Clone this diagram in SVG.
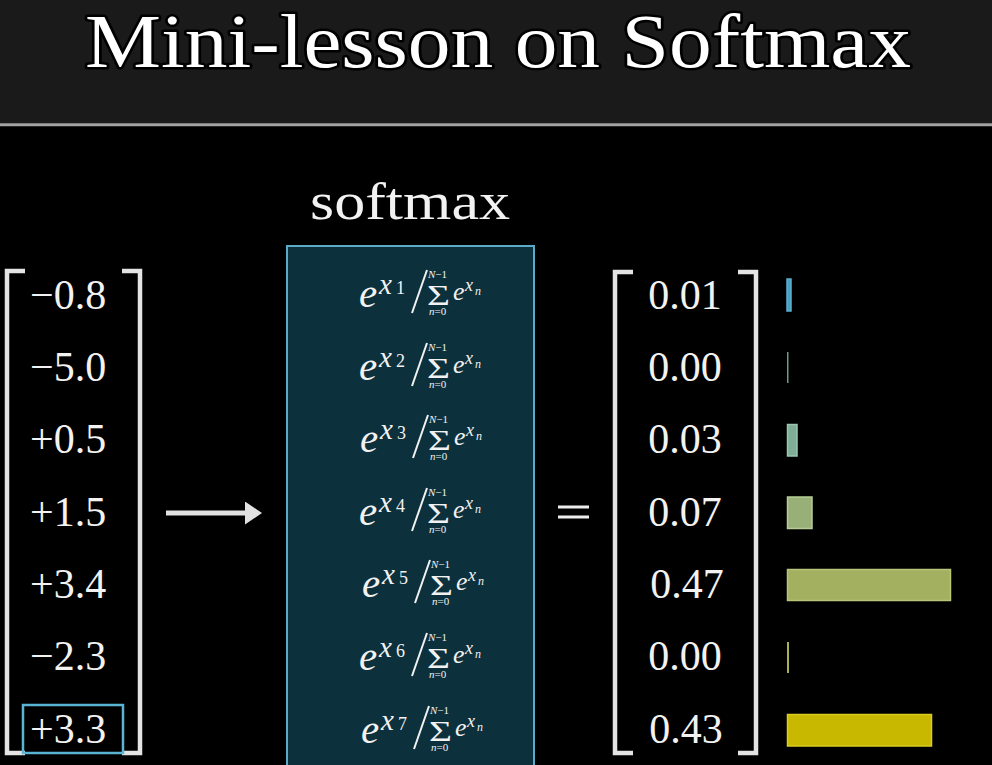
<svg xmlns="http://www.w3.org/2000/svg" xmlns:xlink="http://www.w3.org/1999/xlink" width="992" height="765" viewBox="0 0 992 765">
<style>
.num{font-family:"Liberation Serif","DejaVu Serif",serif;font-size:42px;fill:#f2f2f2}
.mi{font-family:"Liberation Serif","DejaVu Serif",serif;font-style:italic;fill:#f2f2f2}
.mr{font-family:"Liberation Serif","DejaVu Serif",serif;fill:#f2f2f2}
.br{fill:none;stroke:#e4e4e4;stroke-width:4.5}
.bar{stroke-width:1.5}
</style>
<defs>
<marker id="ah" markerUnits="userSpaceOnUse" markerWidth="18" markerHeight="24" refX="2" refY="11.5" orient="auto">
<path d="M0,0 L17,11.5 L0,23 Z" fill="#e2e2e2"/>
</marker>
<g id="frac">
<text class="mi" x="359" y="0" font-size="41">e</text>
<text class="mi" x="379" y="-13" font-size="29">x</text>
<line x1="412" y1="6" x2="427" y2="-37" stroke="#f2f2f2" stroke-width="2"/>
<text class="mr" x="427" y="-2" font-size="29" textLength="23" lengthAdjust="spacingAndGlyphs">Σ</text>
<text class="mi" x="428" y="-29" font-size="11">N<tspan font-style="normal">−1</tspan></text>
<text class="mi" x="429" y="8" font-size="11">n<tspan font-style="normal">=0</tspan></text>
<text class="mi" x="453" y="-7" font-size="26">e</text>
<text class="mi" x="465" y="-16" font-size="18">x</text>
<text class="mi" x="475" y="-12" font-size="12">n</text>
</g>
</defs>
<rect x="0" y="0" width="992" height="765" fill="#000"/>
<g id="header">
<rect x="0" y="0" width="992" height="123" fill="#1a1a1a"/>
<line x1="0" y1="124.8" x2="992" y2="124.8" stroke="#a3a3a3" stroke-width="3"/>
<text x="85" y="67" textLength="826" lengthAdjust="spacingAndGlyphs" font-family="Liberation Serif, DejaVu Serif, serif" font-size="76" fill="#fff" stroke="#000" stroke-width="5" paint-order="stroke" stroke-linejoin="round">Mini-lesson on Softmax</text>
</g>
<g id="input-vector">
<path class="br" d="M25,271 H7 V753 H25"/>
<path class="br" d="M122,271 H140 V753 H122"/>
<text class="num" x="30" y="309">−0.8</text>
<text class="num" x="30" y="381">−5.0</text>
<text class="num" x="30" y="453">+0.5</text>
<text class="num" x="30" y="526">+1.5</text>
<text class="num" x="30" y="598">+3.4</text>
<text class="num" x="30" y="670">−2.3</text>
<text class="num" x="30" y="743">+3.3</text>
<rect x="23" y="705" width="100" height="48" fill="none" stroke="#5ab4d4" stroke-width="2.5"/>
</g>
<g id="softmax-node">
<text x="310" y="219" textLength="200" lengthAdjust="spacingAndGlyphs" font-family="Liberation Serif, DejaVu Serif, serif" font-size="52" fill="#f2f2f2">softmax</text>
<rect x="287" y="246" width="247" height="530" fill="#0c303c" stroke="#5aaac8" stroke-width="2"/>
<use xlink:href="#frac" href="#frac" x="0" y="307"/>
<text class="mr" x="396" y="294" font-size="18">1</text>
<use xlink:href="#frac" href="#frac" x="0" y="380"/>
<text class="mr" x="396" y="367" font-size="18">2</text>
<use xlink:href="#frac" href="#frac" x="1" y="452"/>
<text class="mr" x="397" y="439" font-size="18">3</text>
<use xlink:href="#frac" href="#frac" x="0" y="525"/>
<text class="mr" x="396" y="512" font-size="18">4</text>
<use xlink:href="#frac" href="#frac" x="3" y="597"/>
<text class="mr" x="399" y="584" font-size="18">5</text>
<use xlink:href="#frac" href="#frac" x="0" y="670"/>
<text class="mr" x="396" y="657" font-size="18">6</text>
<use xlink:href="#frac" href="#frac" x="2" y="743"/>
<text class="mr" x="398" y="730" font-size="18">7</text>
</g>
<g id="connectors">
<line x1="166" y1="513" x2="247" y2="513" stroke="#e2e2e2" stroke-width="5" marker-end="url(#ah)"/>
<line x1="558" y1="507" x2="589" y2="507" stroke="#ececec" stroke-width="3"/>
<line x1="558" y1="517" x2="589" y2="517" stroke="#ececec" stroke-width="3"/>
</g>
<g id="output-vector">
<path class="br" d="M633,272 H615 V753 H633"/>
<path class="br" d="M738,272 H756 V753 H738"/>
<g class="num" text-anchor="middle">
<text x="685" y="309">0.01</text>
<text x="685" y="381">0.00</text>
<text x="685" y="453">0.03</text>
<text x="685" y="526">0.07</text>
<text x="687" y="598">0.47</text>
<text x="685" y="670">0.00</text>
<text x="686" y="743">0.43</text>
</g>
</g>
<g id="bars">
<rect class="bar" x="787" y="279" width="4" height="32" fill="#4a9ec0" stroke="#5ab0d0"/>
<rect class="bar" x="787" y="352" width="1.5" height="31" fill="#6a9a90" stroke="none"/>
<rect class="bar" x="787.5" y="424.5" width="9.5" height="31.5" fill="#7fae98" stroke="#9cc4b0"/>
<rect class="bar" x="787.5" y="497" width="24.5" height="31.5" fill="#98b078" stroke="#b6cc96"/>
<rect class="bar" x="787.5" y="569.5" width="163" height="31" fill="#a3b060" stroke="#b8c47a"/>
<rect class="bar" x="787" y="642" width="2" height="31" fill="#a8b050" stroke="none"/>
<rect class="bar" x="787.5" y="714.5" width="144" height="31.5" fill="#c8b800" stroke="#dccc20"/>
</g>
</svg>
